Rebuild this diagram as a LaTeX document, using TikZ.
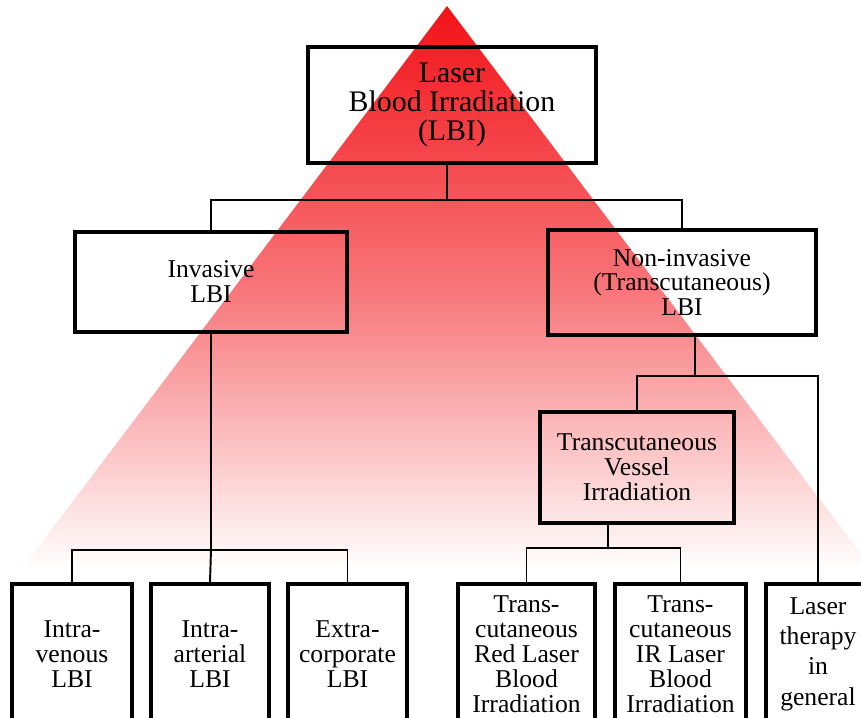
\documentclass[tikz,border=0pt]{standalone}
\usepackage{fontspec}
\setmainfont{Liberation Serif}
\usetikzlibrary{positioning, calc}
\definecolor{laserred}{RGB}{242,18,24}
\tikzset{
  box/.style={rectangle, draw, line width=2.4pt, align=center, inner sep=2pt,
              font=\fontsize{14.6}{14.2}\selectfont},
  topbox/.style={box, font=\fontsize{17}{16.4}\selectfont},
  leaf/.style={box, anchor=north, minimum height=2.8cm},
  link/.style={line width=1.1pt},
}
\begin{document}
\begin{tikzpicture}[x=0.02cm, y=-0.02cm]
  \useasboundingbox (0,0) rectangle (861,717);

  % the beam behind the tree
  \shade[top color=laserred, bottom color=white, middle color=laserred!58, shading=axis]
    (447,6) -- (873,570) -- (21,570) -- cycle;

  \node[topbox, minimum width=5.76cm, minimum height=2.32cm] (lbi) at (452,105)
    {Laser\\Blood Irradiation\\(LBI)};
  \node[box, minimum width=5.44cm, minimum height=2.0cm] (inv) at (211,282)
    {Invasive\\LBI};
  \node[box, minimum width=5.36cm, minimum height=2.1cm] (non) at (682,282.5)
    {Non-invasive\\(Transcutaneous)\\LBI};
  \node[box, minimum width=3.88cm, minimum height=2.22cm] (ves) at (637,467.5)
    {Transcutaneous\\Vessel\\Irradiation};

  \node[leaf, minimum width=2.4cm]  (iv)  at (72,582)    {Intra-\\venous\\LBI};
  \node[leaf, minimum width=2.36cm] (ia)  at (210,582)   {Intra-\\arterial\\LBI};
  \node[leaf, minimum width=2.38cm] (ec)  at (347.5,582) {Extra-\\corporate\\LBI};
  \node[leaf, minimum width=2.74cm] (red) at (526.5,582)
    {Trans-\\cutaneous\\Red Laser\\Blood\\Irradiation};
  \node[leaf, minimum width=2.62cm] (ir)  at (680.5,582)
    {Trans-\\cutaneous\\IR Laser\\Blood\\Irradiation};
  \node[leaf, minimum width=2.08cm, font=\fontsize{14.6}{17.2}\selectfont] (lt) at (818,582)
    {Laser\\therapy\\in\\general};

  \coordinate (topbus) at (447,200);
  \coordinate (invbus) at (211,550);
  \coordinate (nonbus) at (695,376);
  \coordinate (vesbus) at (608,548);

  \draw[link] (lbi.south -| topbus) -- (topbus);
  \draw[link] (inv.north) |- (topbus) -| (non.north);

  \draw[link] (inv.south) -- (invbus);
  \draw[link] (iv.north) |- (invbus) -| (ec.north);
  \draw[link] (ia.north) -- (invbus);

  \draw[link] (non.south -| nonbus) -- (nonbus);
  \draw[link] (ves.north) |- (nonbus) -| (lt.north);

  \draw[link] (ves.south -| vesbus) -- (vesbus);
  \draw[link] (red.north) |- (vesbus) -| (ir.north);
\end{tikzpicture}
\end{document}
